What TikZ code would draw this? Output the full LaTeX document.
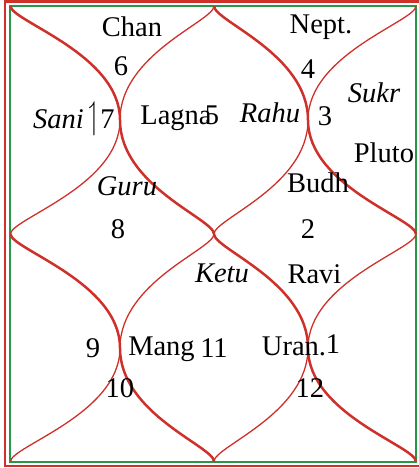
\documentclass[tikz,border=0pt]{standalone}
\usepackage{amssymb}
\usepackage{graphicx}
\usepackage{fontspec}
\setmainfont{Liberation Serif}
\usepackage{tikz}
\definecolor{chartred}{RGB}{206,48,42}
\definecolor{chartgreen}{RGB}{38,152,72}

\begin{document}
\begin{tikzpicture}[x=0.5pt,y=-0.5pt,
    frame/.style={draw=chartred,line width=1.2pt},
    inner/.style={draw=chartgreen,line width=1pt},
    heavy/.style={draw=chartred,line width=1.25pt},
    light/.style={draw=chartred,line width=0.65pt},
    lbl/.style={inner sep=0pt,anchor=base,font=\fontsize{14.25}{17}\selectfont},
    pl/.style={lbl,font=\fontsize{14.25}{17}\selectfont\itshape}]
    \useasboundingbox (0,0) rectangle (419,468);
    \clip (0,0) rectangle (419,468);
    \draw[frame] (5,1.5) rectangle (422,466);
    \draw[inner] (10.5,6) rectangle (416,461.5);
    % two crossing S-curves in every quarter
    \foreach \xl/\xc/\xr/\yt/\yc/\yb in {10.5/120/214/6/120/234,
        214/308/416/6/120/234, 10.5/120/214/234/348/461.5,
        214/308/416/234/348/461.5} {
      \draw[heavy] (\xl,\yt) .. controls (\xl,\yt+15) and (\xc,\yc-66) .. (\xc,\yc)
        .. controls (\xc,\yc+66) and (\xr,\yb-15) .. (\xr,\yb);
      \draw[light] (\xr,\yt) .. controls (\xr,\yt+15) and (\xc,\yc-66) .. (\xc,\yc)
        .. controls (\xc,\yc+66) and (\xl,\yb-15) .. (\xl,\yb);
    }
    % top-left
    \node[lbl] (chan) at (132,36) {Chan};
    \node[lbl] (h6) at (121,75) {6};
    \node[lbl,anchor=base east] (h7) at (115,128)
      {\textit{Sani}\,\scalebox{1}[1.35]{$\upharpoonleft$}7};
    \node[lbl] (lagna) at (176,124) {Lagna};
    \node[lbl] (h5) at (212,124) {5};
    \node[pl] (guru) at (127,195) {Guru};
    \node[lbl] (h8) at (118,238) {8};
    % top-right
    \node[lbl] (nept) at (321,33) {Nept.};
    \node[lbl] (h4) at (308,78) {4};
    \node[pl] (rahu) at (270,122) {Rahu};
    \node[lbl] (h3) at (325,125) {3};
    \node[pl] (sukr) at (374,102) {Sukr};
    \node[lbl] (pluto) at (384,162) {Pluto};
    \node[lbl] (budh) at (318,192) {Budh};
    \node[lbl] (h2) at (308,238) {2};
    % bottom
    \node[pl] (ketu) at (222,282) {Ketu};
    \node[lbl] (ravi) at (314.5,283) {Ravi};
    \node[lbl] (h9) at (93,357) {9};
    \node[lbl] (mang) at (161.5,355) {Mang};
    \node[lbl] (h11) at (214,357) {11};
    \node[lbl] (uran) at (294,355) {Uran.};
    \node[lbl] (h1) at (333,353) {1};
    \node[lbl] (h10) at (120,397) {10};
    \node[lbl] (h12) at (310,397) {12};
\end{tikzpicture}
\end{document}
